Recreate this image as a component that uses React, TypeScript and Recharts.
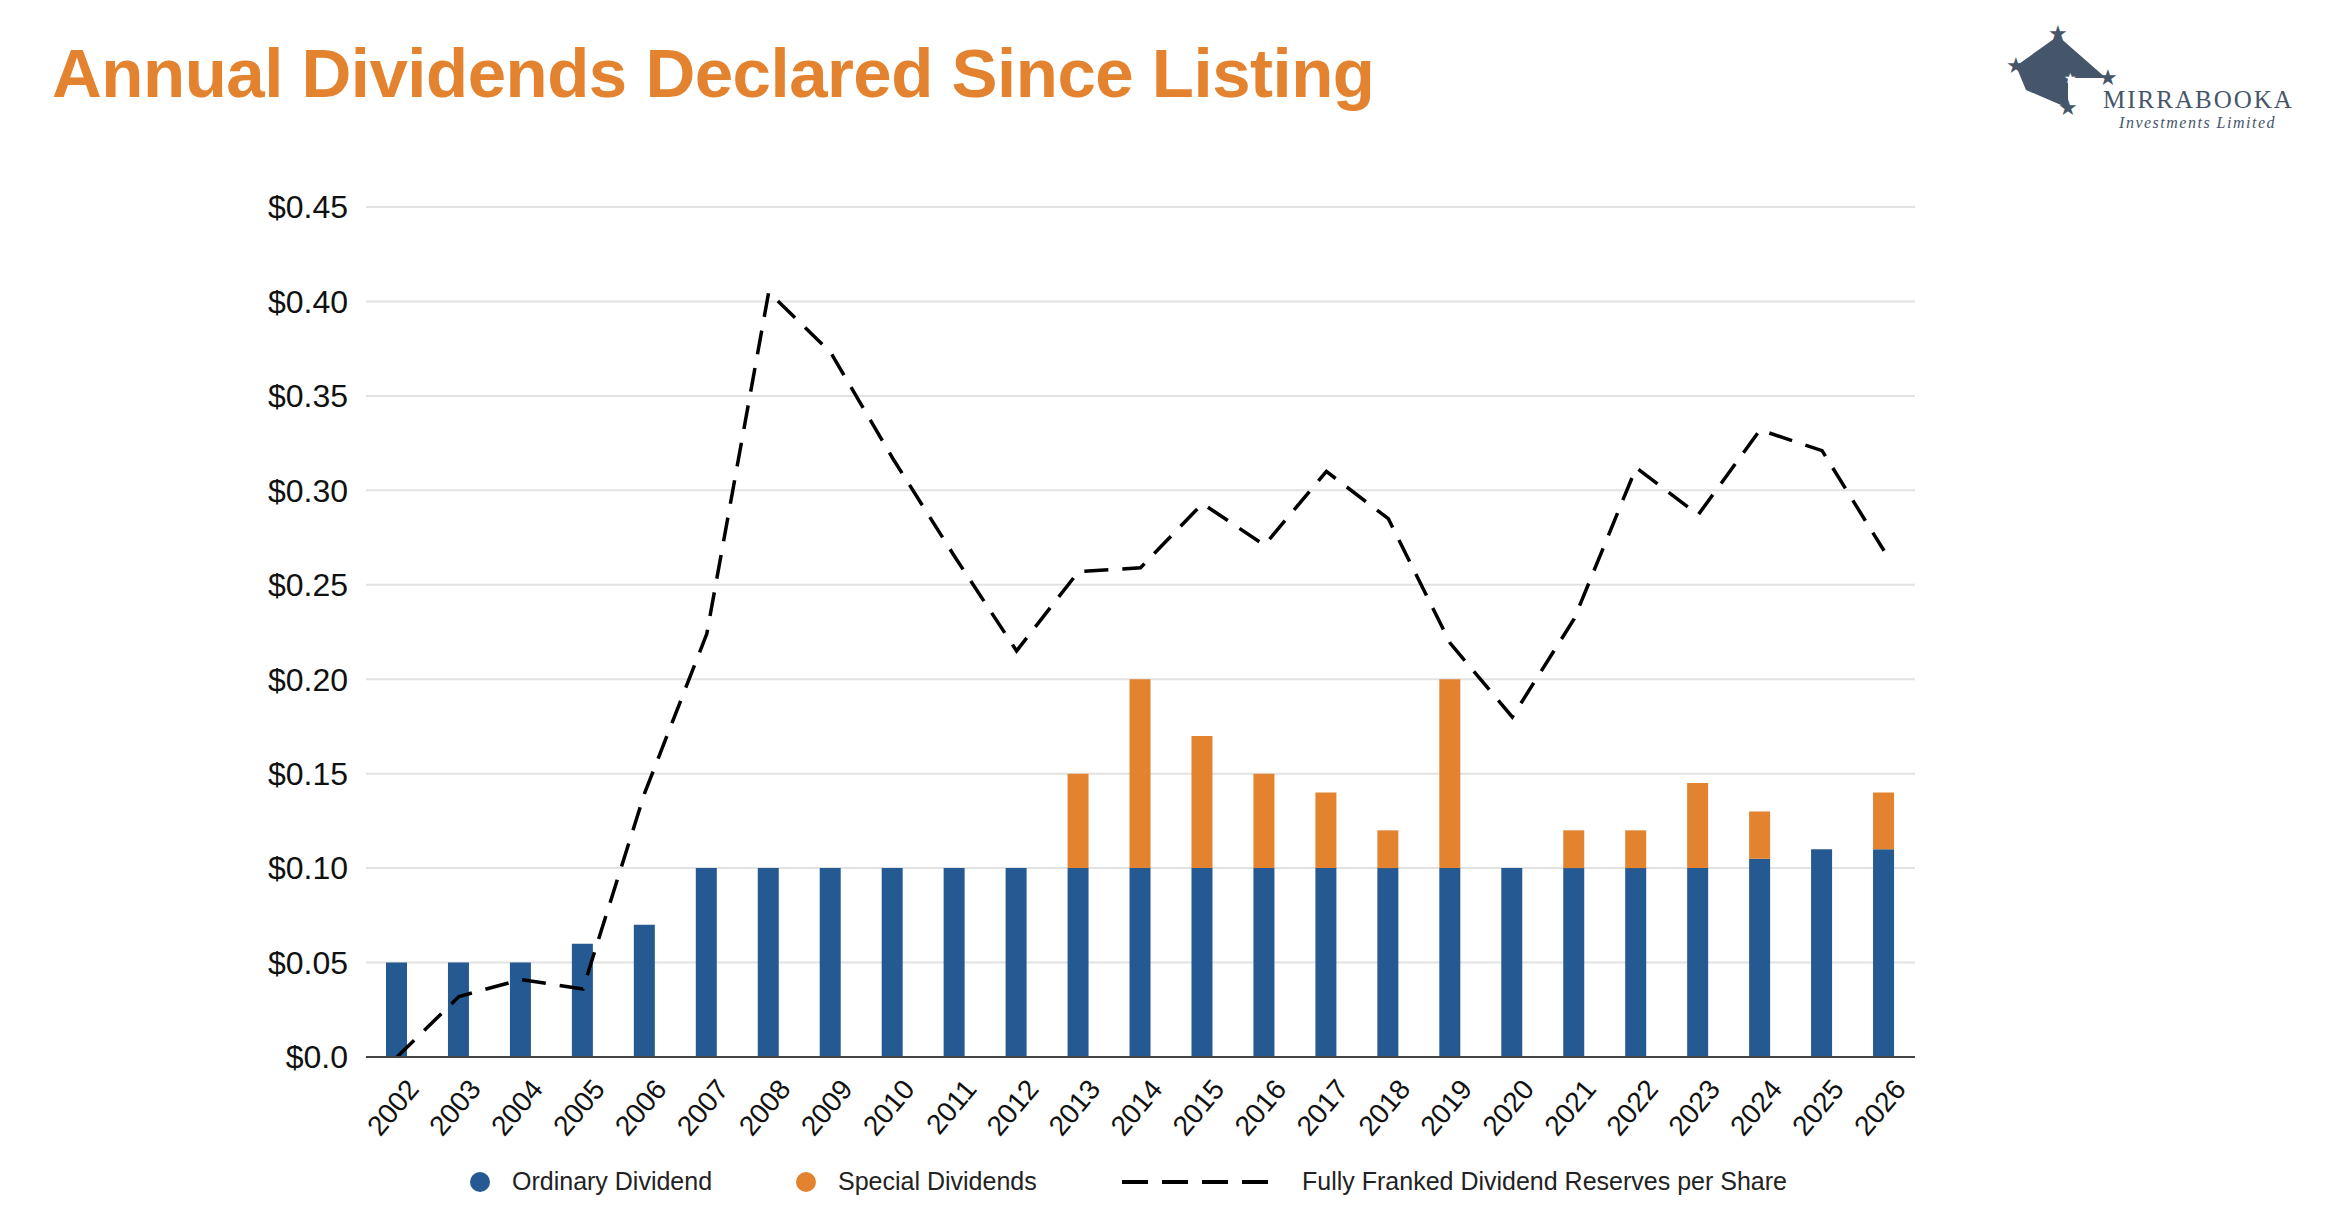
import { Bar, CartesianGrid, ComposedChart, Line, XAxis, YAxis } from "recharts"

const years = ["2002","2003","2004","2005","2006","2007","2008","2009","2010","2011","2012","2013","2014","2015","2016","2017","2018","2019","2020","2021","2022","2023","2024","2025","2026"]
const ordinary = [0.05,0.05,0.05,0.06,0.07,0.1,0.1,0.1,0.1,0.1,0.1,0.1,0.1,0.1,0.1,0.1,0.1,0.1,0.1,0.1,0.1,0.1,0.105,0.11,0.11]
const special = [0,0,0,0,0,0,0,0,0,0,0,0.05,0.1,0.07,0.05,0.04,0.02,0.1,0,0.02,0.02,0.045,0.025,0,0.03]
const reserves = [0,0.032,0.041,0.036,0.14,0.224,0.405,0.373,0.317,0.265,0.215,0.257,0.259,0.293,0.271,0.31,0.285,0.219,0.18,0.232,0.312,0.287,0.332,0.321,0.268]
const yTicks = [0,0.05,0.1,0.15,0.2,0.25,0.3,0.35,0.4,0.45]

const BLUE = "#245A91"
const ORANGE = "#E3832F"
const FONT = "'Liberation Sans', Arial, sans-serif"

const data = years.map((y, i) => ({ year: y, ordinary: ordinary[i], special: special[i], reserves: reserves[i] }))

function XTick({ x, y, payload }: any) {
  return (
    <text x={x + 8} y={y + 12} transform={`rotate(-50 ${x + 8} ${y + 12})`} textAnchor="end" dominantBaseline="hanging"
      fontSize={28} fill="#111" fontFamily={FONT}>
      {payload.value}
    </text>
  )
}

function Logo() {
  return (
    <svg width={330} height={120} style={{ position: "absolute", left: 1990, top: 8 }}>
      <polygon points="60,20 108,62 70,62 70,92 28,74 18,50" fill="#46566A" />
      {[[60,18],[18,50],[110,62],[70,92],[72,60]].map(([cx, cy], i) => (
        <text key={i} x={cx} y={cy + 7} fontSize={i === 4 ? 14 : 22} textAnchor="middle" fill={i === 4 ? "#fff" : "#46566A"}>★</text>
      ))}
      <text x={105} y={92} fontSize={25} fill="#46566A" fontFamily="'Liberation Serif', serif" letterSpacing={2}>MIRRABOOKA</text>
      <text x={278} y={112} fontSize={16} fill="#46566A" fontFamily="'Liberation Serif', serif" fontStyle="italic" textAnchor="end" letterSpacing={1.5}>Investments Limited</text>
    </svg>
  )
}

export default function App() {
  return (
    <div style={{ position: "relative", width: 2324, height: 1206, background: "#fff", fontFamily: FONT }}>
      <div style={{ position: "absolute", left: 44, top: 26, fontSize: 69, fontWeight: 700, color: ORANGE, letterSpacing: -0.5 }}>
        Annual Dividends Declared Since Listing
      </div>
      <Logo />
      <ComposedChart width={2324} height={1206} data={data} margin={{ top: 199, right: 417, left: 230, bottom: 67 }} barCategoryGap="33%">
        <CartesianGrid vertical={false} stroke="#e2e2e2" strokeWidth={2} />
        <XAxis dataKey="year" tick={<XTick />} tickLine={false} axisLine={{ stroke: "#444", strokeWidth: 2 }} interval={0} height={90} />
        <YAxis width={128} domain={[0, 0.45]} ticks={yTicks} axisLine={false} tickLine={false}
          tickFormatter={(v: number) => (v === 0 ? "$0.0" : `$${v.toFixed(2)}`)}
          tick={{ fontSize: 32, fill: "#111", fontFamily: FONT, dx: -10 }} />
        <Bar dataKey="ordinary" stackId="a" fill={BLUE} barSize={21} isAnimationActive={false} />
        <Bar dataKey="special" stackId="a" fill={ORANGE} barSize={21} isAnimationActive={false} />
        <Line dataKey="reserves" type="linear" stroke="#000" strokeWidth={3.5} strokeDasharray="24 14" dot={false} isAnimationActive={false} />
      </ComposedChart>
      <div style={{ position: "absolute", top: 1159, left: 0, width: 2324, fontSize: 25, color: "#222" }}>
        <div style={{ position: "absolute", left: 462, display: "flex", alignItems: "center" }}>
          <span style={{ width: 20, height: 20, borderRadius: 10, background: BLUE, marginRight: 22 }} />Ordinary Dividend
        </div>
        <div style={{ position: "absolute", left: 788, display: "flex", alignItems: "center" }}>
          <span style={{ width: 20, height: 20, borderRadius: 10, background: ORANGE, marginRight: 22 }} />Special Dividends
        </div>
        <div style={{ position: "absolute", left: 1114, display: "flex", alignItems: "center" }}>
          <svg width={150} height={10} style={{ marginRight: 30 }}><line x1={0} y1={5} x2={150} y2={5} stroke="#000" strokeWidth={4} strokeDasharray="26 14" /></svg>
          Fully Franked Dividend Reserves per Share
        </div>
      </div>
    </div>
  )
}
